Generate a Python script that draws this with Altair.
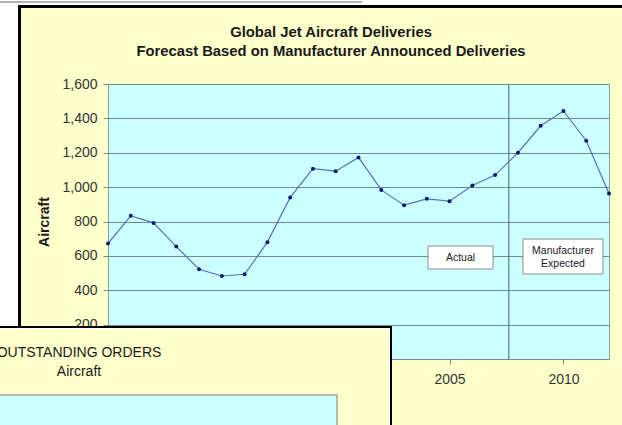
import altair as alt
import pandas as pd

# Global jet aircraft deliveries, 1990-2012 (2008+ = manufacturer expected)
years = list(range(1990, 2013))
deliveries = [672, 833, 792, 654, 522, 483, 493, 680, 940, 1107, 1093, 1173,
              984, 895, 932, 918, 1010, 1070, 1200, 1357, 1443, 1270, 963]
y_ticks = [0, 200, 400, 600, 800, 1000, 1200, 1400, 1600]
x_ticks = [1990, 1995, 2000, 2005, 2010]
forecast_start = [2007.6]
title_lines = ["Global Jet Aircraft Deliveries",
               "Forecast Based on Manufacturer Announced Deliveries"]
actual_label = ["Actual"]
expected_label = ["Manufacturer", "Expected"]
orders_title = ["OUTSTANDING ORDERS", "Aircraft"]

YELLOW = "#FFFFCC"
CYAN = "#CCFFFF"
GRID = "#6a8c8c"
FONT = "Liberation Sans"

W, H = 501, 275          # plot area
L, T = 108, 84           # plot-area origin on the page


def px(v):
    return alt.value(v - L)


def py(v):
    return alt.value(v - T)


one = pd.DataFrame({"k": [0]})


def box(x0, y0, x1, y1, **kw):
    return alt.Chart(one).mark_rect(**kw).encode(x=px(x0), x2=px(x1), y=py(y0), y2=py(y1))


def label(s, x, y, size, weight="normal", color="#1a1a1a", align="center"):
    return alt.Chart(pd.DataFrame({"t": [s]})).mark_text(
        font=FONT, fontSize=size, fontWeight=weight, color=color,
        align=align, baseline="middle"
    ).encode(text="t:N", x=px(x), y=py(y))


df = pd.DataFrame({"year": years, "deliveries": deliveries})

x_axis = alt.Axis(values=x_ticks, format="d", title=None, grid=False,
                  domain=False, tickSize=5, labelPadding=8, labelOverlap=False)
y_axis = alt.Axis(values=y_ticks, format=",d", title="Aircraft",
                  grid=True, domain=False, tickSize=5, labelPadding=6,
                  labelOverlap=False, titlePadding=10, titleFontSize=14,
                  titleFontWeight="bold", titleColor="#1a1a1a", titleFont=FONT)
x_scale = alt.Scale(domain=[1990, 2012], nice=False, zero=False)
y_scale = alt.Scale(domain=[0, 1600], nice=False)
x_enc = alt.X("year:Q", scale=x_scale, axis=x_axis)
y_enc = alt.Y("deliveries:Q", scale=y_scale, axis=y_axis)

# page frame around the main chart
white_left = box(-10, -10, 18, 440, color="white")
white_top = box(-10, -10, 640, 5, color="white")
top_rule = alt.Chart(one).mark_rule(color="#b4b4b4", strokeWidth=2).encode(
    x=px(0), x2=px(362), y=py(2))
frame = box(19.5, 6.5, 700, 500, fillOpacity=0, stroke="black", strokeWidth=3)

titles = [label(title_lines[0], 331, 33, 14.8, "bold"),
          label(title_lines[1], 331, 52, 14.8, "bold")]

line = alt.Chart(df).mark_line(color="#5572b8", strokeWidth=1.2).encode(x=x_enc, y=y_enc)
points = alt.Chart(df).mark_circle(color="#0b1a6b", size=16, opacity=1).encode(
    x=x_enc, y=y_enc)
divider = alt.Chart(pd.DataFrame({"year": forecast_start})).mark_rule(
    color="#5a7c7c", strokeWidth=1.2).encode(x=x_enc)

# annotation boxes
actual_box = box(428, 246, 493, 269, fill="white", stroke="#8a8a8a", strokeWidth=1)
expected_box = box(523, 239, 603, 274, fill="white", stroke="#8a8a8a", strokeWidth=1)
notes = [label(actual_label[0], 460.5, 258, 10.5),
         label(expected_label[0], 563, 251, 10.5),
         label(expected_label[1], 563, 264, 10.5)]

# outstanding-orders chart lying over the lower left corner
orders_frame = box(-20, 327, 391, 500, fill="white", stroke="black", strokeWidth=2)
orders_bg = box(-20, 329, 389, 500, color=YELLOW)
orders_plot = box(-20, 395, 337, 500, fill=CYAN, stroke="#b4bcae", strokeWidth=2)
orders_titles = [label(orders_title[0], 79, 353, 14),
                 label(orders_title[1], 79, 372, 14)]

chart = alt.layer(
    white_left, white_top, top_rule, frame, *titles,
    line, points, divider,
    actual_box, expected_box, *notes,
    orders_frame, orders_bg, orders_plot, *orders_titles,
).properties(
    width=W, height=H,
    autosize=alt.AutoSizeParams(type="none"),
    padding={"left": L, "top": T, "right": 622 - L - W, "bottom": 425 - T - H},
    background=YELLOW,
).configure_view(
    fill=CYAN, stroke="#8c9c9c", strokeWidth=1
).configure_axis(
    labelFont=FONT, labelFontSize=14, labelColor="#333333",
    tickColor="#7f7f7f", gridColor=GRID, gridWidth=1,
)

chart.save("out.html", embed_options={"renderer": "svg", "actions": False})
